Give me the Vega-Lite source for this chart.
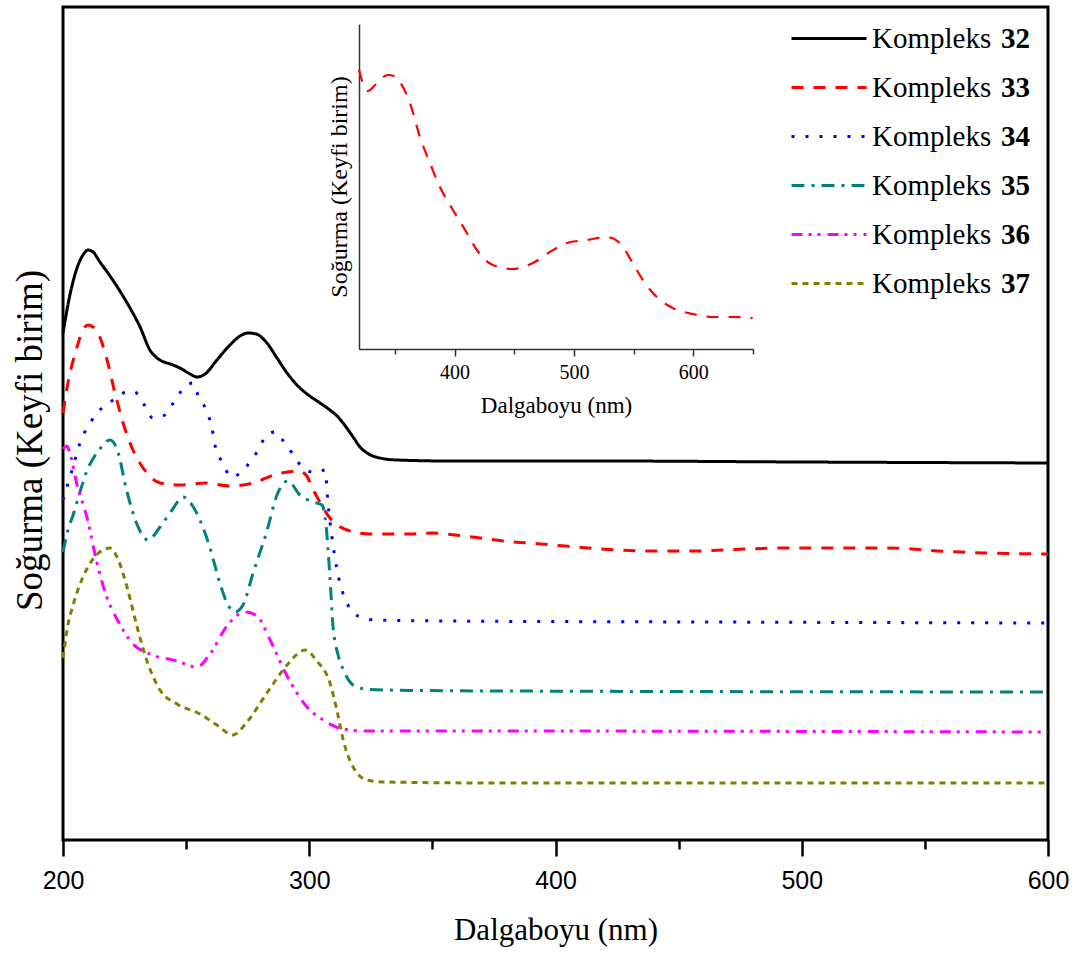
{
  "$schema": "https://vega.github.io/schema/vega-lite/v6.json",
  "width": 985,
  "height": 833,
  "autosize": {"type": "none"},
  "padding": {"left": 63, "top": 7, "right": 34, "bottom": 114},
  "background": "white",
  "config": {"view": {"stroke": "black", "strokeWidth": 3}, "axis": {"grid": false}},
  "datasets": {
    "main": [
      {"k":"32","x":200,"y":507},{"k":"32","x":202.8,"y":545},{"k":"32","x":205.7,"y":572},{"k":"32","x":208.1,"y":585},{"k":"32","x":210.2,"y":590},{"k":"32","x":212.2,"y":588},{"k":"32","x":215,"y":578},{"k":"32","x":219.1,"y":564},{"k":"32","x":223.1,"y":549},{"k":"32","x":227.2,"y":532},{"k":"32","x":231.3,"y":513},{"k":"32","x":235.3,"y":490},{"k":"32","x":238.2,"y":482},{"k":"32","x":244.7,"y":475},{"k":"32","x":247.5,"y":472},{"k":"32","x":251.6,"y":466},{"k":"32","x":254.4,"y":463},{"k":"32","x":257.7,"y":466},{"k":"32","x":262.5,"y":480},{"k":"32","x":267.8,"y":495},{"k":"32","x":271.9,"y":504},{"k":"32","x":275.1,"y":507},{"k":"32","x":278.4,"y":506},{"k":"32","x":282.8,"y":497},{"k":"32","x":286.9,"y":482},{"k":"32","x":291,"y":467},{"k":"32","x":295,"y":455},{"k":"32","x":299.1,"y":446},{"k":"32","x":304.4,"y":437},{"k":"32","x":308.4,"y":430},{"k":"32","x":311.3,"y":424},{"k":"32","x":313.7,"y":417},{"k":"32","x":317.8,"y":403},{"k":"32","x":320.6,"y":393},{"k":"32","x":323.5,"y":387},{"k":"32","x":328.7,"y":382},{"k":"32","x":335.6,"y":380},{"k":"32","x":357.2,"y":379},{"k":"32","x":418.1,"y":379},{"k":"32","x":499.3,"y":378},{"k":"32","x":600,"y":377},
      {"k":"33","x":200,"y":427},{"k":"33","x":202,"y":457},{"k":"33","x":205.7,"y":493},{"k":"33","x":208.1,"y":510},{"k":"33","x":210.2,"y":515},{"k":"33","x":212.2,"y":513},{"k":"33","x":214.2,"y":507},{"k":"33","x":217.9,"y":480},{"k":"33","x":221.1,"y":447},{"k":"33","x":224.4,"y":417},{"k":"33","x":228.4,"y":390},{"k":"33","x":234.1,"y":367},{"k":"33","x":239.4,"y":357},{"k":"33","x":247.5,"y":355},{"k":"33","x":257.7,"y":357},{"k":"33","x":267.8,"y":354},{"k":"33","x":277.2,"y":357},{"k":"33","x":286.9,"y":366},{"k":"33","x":295.4,"y":369},{"k":"33","x":298.3,"y":366},{"k":"33","x":302.3,"y":347},{"k":"33","x":308.4,"y":322},{"k":"33","x":315.3,"y":310},{"k":"33","x":324.7,"y":306},{"k":"33","x":340.1,"y":306},{"k":"33","x":350.3,"y":307},{"k":"33","x":359.2,"y":305},{"k":"33","x":369.3,"y":302},{"k":"33","x":378.7,"y":299},{"k":"33","x":388.8,"y":297},{"k":"33","x":399,"y":295},{"k":"33","x":408.3,"y":293},{"k":"33","x":418.5,"y":291},{"k":"33","x":438,"y":289},{"k":"33","x":457.1,"y":289},{"k":"33","x":476.5,"y":291},{"k":"33","x":496,"y":292},{"k":"33","x":516.3,"y":292},{"k":"33","x":534.6,"y":292},{"k":"33","x":544.8,"y":291},{"k":"33","x":554.9,"y":289},{"k":"33","x":564.3,"y":288},{"k":"33","x":574.4,"y":287},{"k":"33","x":600,"y":286},
      {"k":"34","x":200,"y":340},{"k":"34","x":201.6,"y":353},{"k":"34","x":203.7,"y":370},{"k":"34","x":206.9,"y":397},{"k":"34","x":211,"y":417},{"k":"34","x":216.2,"y":433},{"k":"34","x":221.9,"y":442},{"k":"34","x":226.4,"y":449},{"k":"34","x":229.2,"y":448},{"k":"34","x":232.5,"y":437},{"k":"34","x":236.5,"y":422},{"k":"34","x":241.4,"y":425},{"k":"34","x":245.5,"y":440},{"k":"34","x":250.4,"y":455},{"k":"34","x":252.8,"y":457},{"k":"34","x":254.8,"y":445},{"k":"34","x":258.5,"y":428},{"k":"34","x":260.5,"y":412},{"k":"34","x":261.7,"y":395},{"k":"34","x":264.6,"y":378},{"k":"34","x":268.6,"y":363},{"k":"34","x":273.9,"y":372},{"k":"34","x":278.8,"y":388},{"k":"34","x":282.8,"y":405},{"k":"34","x":286.1,"y":408},{"k":"34","x":288.1,"y":403},{"k":"34","x":293,"y":387},{"k":"34","x":297.5,"y":372},{"k":"34","x":303.1,"y":367},{"k":"34","x":306.4,"y":370},{"k":"34","x":307.6,"y":337},{"k":"34","x":309.2,"y":303},{"k":"34","x":311.3,"y":270},{"k":"34","x":315.3,"y":237},{"k":"34","x":320.6,"y":223},{"k":"34","x":326.7,"y":220},{"k":"34","x":357.2,"y":219},{"k":"34","x":458.7,"y":218},{"k":"34","x":600,"y":217},
      {"k":"35","x":200,"y":288},{"k":"35","x":202,"y":310},{"k":"35","x":204.1,"y":325},{"k":"35","x":206.9,"y":348},{"k":"35","x":209.7,"y":369},{"k":"35","x":215,"y":391},{"k":"35","x":217.9,"y":399},{"k":"35","x":219.1,"y":400},{"k":"35","x":221.9,"y":391},{"k":"35","x":226,"y":348},{"k":"35","x":230,"y":316},{"k":"35","x":234.5,"y":300},{"k":"35","x":239.4,"y":313},{"k":"35","x":244.3,"y":330},{"k":"35","x":248.7,"y":343},{"k":"35","x":252.4,"y":335},{"k":"35","x":255.6,"y":320},{"k":"35","x":259.7,"y":292},{"k":"35","x":263.8,"y":256},{"k":"35","x":267,"y":235},{"k":"35","x":269.8,"y":228},{"k":"35","x":273.1,"y":235},{"k":"35","x":277.2,"y":267},{"k":"35","x":282.8,"y":309},{"k":"35","x":286.9,"y":345},{"k":"35","x":291.4,"y":359},{"k":"35","x":296.2,"y":345},{"k":"35","x":301.5,"y":338},{"k":"35","x":305.2,"y":335},{"k":"35","x":306.8,"y":315},{"k":"35","x":308.4,"y":263},{"k":"35","x":309.6,"y":215},{"k":"35","x":311.7,"y":185},{"k":"35","x":313.7,"y":171},{"k":"35","x":317.8,"y":155},{"k":"35","x":322.6,"y":151},{"k":"35","x":330,"y":150},{"k":"35","x":377.5,"y":149},{"k":"35","x":600,"y":148},
      {"k":"36","x":200,"y":391},{"k":"36","x":201.6,"y":394},{"k":"36","x":202.8,"y":387},{"k":"36","x":205.7,"y":355},{"k":"36","x":209.7,"y":323},{"k":"36","x":213.8,"y":277},{"k":"36","x":217.9,"y":242},{"k":"36","x":221.9,"y":221},{"k":"36","x":228.4,"y":196},{"k":"36","x":235.3,"y":186},{"k":"36","x":246.3,"y":179},{"k":"36","x":254.4,"y":173},{"k":"36","x":259.7,"y":186},{"k":"36","x":266.6,"y":214},{"k":"36","x":273.9,"y":228},{"k":"36","x":278.8,"y":224},{"k":"36","x":284.1,"y":200},{"k":"36","x":291,"y":164},{"k":"36","x":299.1,"y":133},{"k":"36","x":305.6,"y":120},{"k":"36","x":313.7,"y":111},{"k":"36","x":323.5,"y":109},{"k":"36","x":357.2,"y":109},{"k":"36","x":600,"y":108},
      {"k":"37","x":200,"y":182},{"k":"37","x":202,"y":215},{"k":"37","x":204.1,"y":235},{"k":"37","x":208.1,"y":263},{"k":"37","x":212.2,"y":281},{"k":"37","x":216.2,"y":290},{"k":"37","x":219.1,"y":292},{"k":"37","x":222.3,"y":281},{"k":"37","x":226,"y":253},{"k":"37","x":230,"y":214},{"k":"37","x":234.1,"y":179},{"k":"37","x":239.4,"y":150},{"k":"37","x":246.3,"y":136},{"k":"37","x":255.6,"y":126},{"k":"37","x":262.5,"y":115},{"k":"37","x":269,"y":105},{"k":"37","x":274.7,"y":118},{"k":"37","x":282.8,"y":147},{"k":"37","x":291,"y":175},{"k":"37","x":296.2,"y":188},{"k":"37","x":298.3,"y":190},{"k":"37","x":303.1,"y":179},{"k":"37","x":308.4,"y":157},{"k":"37","x":311.3,"y":129},{"k":"37","x":313.7,"y":101},{"k":"37","x":317.8,"y":73},{"k":"37","x":323.5,"y":60},{"k":"37","x":330,"y":58},{"k":"37","x":377.5,"y":57},{"k":"37","x":600,"y":57}
    ],
    "inset": [
      {"x":320,"y":279},{"x":325,"y":261},{"x":327.5,"y":258},{"x":333.4,"y":264},{"x":339.2,"y":271},{"x":344.3,"y":274},{"x":349.3,"y":273},{"x":354.3,"y":267},{"x":362.7,"y":246},{"x":371,"y":212},{"x":379.4,"y":186},{"x":387.8,"y":162},{"x":398.7,"y":139},{"x":410.4,"y":116},{"x":418.7,"y":99},{"x":432.1,"y":84},{"x":448.9,"y":80},{"x":465.6,"y":86},{"x":479.8,"y":97},{"x":494.1,"y":106},{"x":510.8,"y":109},{"x":527.5,"y":112},{"x":538.4,"y":106},{"x":549.2,"y":86},{"x":557.7,"y":69},{"x":569.4,"y":52},{"x":582.8,"y":41},{"x":599.5,"y":35},{"x":616.2,"y":32},{"x":633,"y":32},{"x":649.7,"y":31}
    ]
  },
  "layer": [
    {
      "data": {"name": "main"},
      "mark": {"type": "line", "strokeWidth": 3, "interpolate": "monotone"},
      "encoding": {
        "x": {
          "field": "x", "type": "quantitative",
          "scale": {"domain": [200, 600], "nice": false, "zero": false},
          "axis": {
            "values": [200, 250, 300, 350, 400, 450, 500, 550, 600],
            "labelExpr": "datum.value % 100 === 0 ? datum.label : ''",
            "domain": false,
            "tickSize": {"condition": {"test": "datum.value % 100 === 0", "value": 16}, "value": 9},
            "tickWidth": 2.5, "tickColor": "black",
            "labelFont": "Liberation Sans", "labelFontSize": 25, "labelColor": "black",
            "labelPadding": 12, "labelFlush": false, "labelOverlap": false,
            "title": "Dalgaboyu (nm)", "titleFont": "Liberation Serif", "titleFontSize": 31,
            "titleFontWeight": "normal", "titleColor": "black", "titlePadding": 22, "grid": false
          }
        },
        "y": {
          "field": "y", "type": "quantitative",
          "scale": {"domain": [0, 833], "nice": false, "zero": false},
          "axis": {
            "domain": false, "ticks": false, "labels": false, "grid": false,
            "title": "Soğurma (Keyfi birim)", "titleFont": "Liberation Serif", "titleFontSize": 37,
            "titleFontWeight": "normal", "titleColor": "black", "titlePadding": 14, "titleY": 433
          }
        },
        "color": {
          "field": "k", "type": "nominal",
          "scale": {"domain": ["32","33","34","35","36","37"], "range": ["#000000","#ff0000","#0000ff","#008080","#ff00ff","#808000"]},
          "legend": {"title": null, "orient": "none", "legendX": 727, "legendY": 17, "clipHeight": 29, "symbolType": "stroke", "symbolSize": 5625, "symbolStrokeWidth": 3, "labelExpr": "'Kompleks'", "labelFont": "Liberation Serif", "labelFontSize": 29, "labelColor": "black", "labelOffset": 4, "rowPadding": 19, "padding": 0, "labelLimit": 0}
        },
        "strokeDash": {
          "field": "k", "type": "nominal",
          "scale": {"domain": ["32","33","34","35","36","37"], "range": [[1,0],[12,10],[3,11],[13,7,3,7],[11,6,3,6,3,7],[6,5]]},
          "legend": {"title": null, "orient": "none", "legendX": 727, "legendY": 17, "clipHeight": 29, "symbolType": "stroke", "symbolSize": 5625, "symbolStrokeWidth": 3, "labelExpr": "'Kompleks'", "labelFont": "Liberation Serif", "labelFontSize": 29, "labelColor": "black", "labelOffset": 4, "rowPadding": 19, "padding": 0, "labelLimit": 0}
        },
        "opacity": {
          "field": "k", "type": "ordinal",
          "scale": {"type": "point", "range": [1, 1]},
          "legend": {"title": null, "orient": "none", "legendX": 909, "legendY": 17, "clipHeight": 29, "symbolType": "stroke", "symbolSize": 0, "symbolStrokeWidth": 0, "labelFont": "Liberation Serif", "labelFontSize": 29, "labelFontWeight": "bold", "labelColor": "black", "labelOffset": 0, "rowPadding": 19, "padding": 0}
        }
      }
    },
    {
      "data": {"name": "inset"},
      "mark": {"type": "line", "strokeWidth": 2.2, "color": "#ff0000", "strokeDash": [12, 10], "interpolate": "monotone"},
      "encoding": {
        "x": {
          "field": "x", "type": "quantitative",
          "scale": {"domain": [320, 650], "range": [296, 690], "nice": false, "zero": false},
          "axis": {
            "orient": "bottom", "offset": -491,
            "values": [350, 400, 450, 500, 550, 600, 650],
            "labelExpr": "datum.value % 100 === 0 ? datum.label : ''",
            "domain": true, "domainColor": "#333333", "domainWidth": 1.5,
            "tickColor": "#333333", "tickWidth": 1.5,
            "tickSize": {"condition": {"test": "datum.value % 100 === 0", "value": 7}, "value": 5},
            "labelFont": "Liberation Serif", "labelFontSize": 20, "labelColor": "black",
            "labelPadding": 6, "labelFlush": false, "labelOverlap": false,
            "title": "Dalgaboyu (nm)", "titleFont": "Liberation Serif", "titleFontSize": 23,
            "titleFontWeight": "normal", "titleColor": "black", "titlePadding": 12, "grid": false
          }
        },
        "y": {
          "field": "y", "type": "quantitative",
          "scale": {"domain": [0, 325], "range": [342, 17], "nice": false, "zero": false},
          "axis": {
            "orient": "left", "offset": -296,
            "domain": true, "domainColor": "#333333", "domainWidth": 1.5,
            "ticks": false, "labels": false, "grid": false,
            "title": "Soğurma (Keyfi birim)", "titleFont": "Liberation Serif", "titleFontSize": 24,
            "titleFontWeight": "normal", "titleColor": "black", "titlePadding": 8
          }
        }
      }
    }
  ],
  "resolve": {"scale": {"x": "independent", "y": "independent"}, "axis": {"x": "independent", "y": "independent"}}
}
